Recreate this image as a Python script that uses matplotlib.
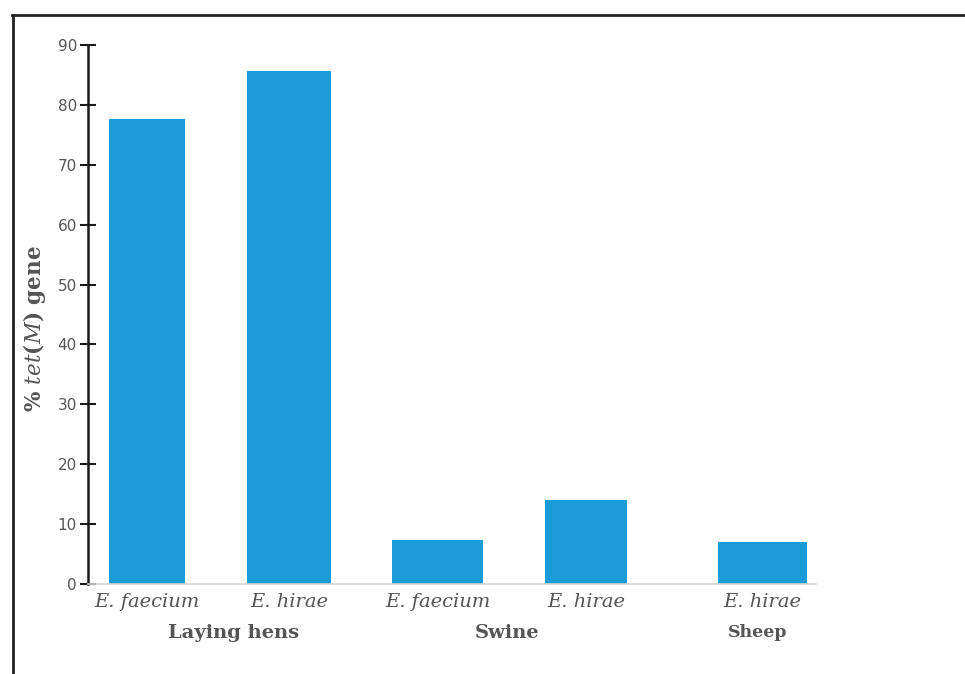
import matplotlib
matplotlib.use("Agg")
import matplotlib.pyplot as plt
from matplotlib.lines import Line2D

# data
species = ["E. faecium", "E. hirae", "E. faecium", "E. hirae", "E. hirae"]
values = [77.7, 85.6, 7.4, 14.1, 7.0]
groups = ["Laying hens", "Swine", "Sheep"]

# layout of the bars (axis units)
xpos = [0.405, 1.38, 2.40, 3.42, 4.63]
widths = [0.52, 0.58, 0.63, 0.56, 0.61]

bar_color = '#1b9bd7'
gray = '#555555'

plt.rcParams['mathtext.fontset'] = 'custom'
plt.rcParams['mathtext.it'] = 'DejaVu Serif:italic'
plt.rcParams['mathtext.rm'] = 'DejaVu Serif:bold'

fig = plt.figure(figsize=(9.65, 6.74), dpi=100)
ax = fig.add_axes([0.0912, 0.1335, 0.7544, 0.7997])

ax.bar(xpos, values, width=widths, color=bar_color)
ax.set_xlim(0, 5)
ax.set_ylim(0, 90)
ax.set_yticks(range(0, 91, 10))

for s in ['top', 'right']:
    ax.spines[s].set_visible(False)
ax.spines['left'].set_linewidth(1.8)
ax.spines['left'].set_color('#1a1a1a')
ax.spines['bottom'].set_color('#d4d4d4')
ax.spines['bottom'].set_linewidth(1.2)
ax.tick_params(axis='y', direction='inout', length=12, width=1.5, color='#1a1a1a',
               labelsize=11, labelcolor=gray, pad=2)
ax.set_xticks([])

# species labels under each bar
for x, name in zip(xpos, species):
    ax.text(x, -1.5, name, ha='center', va='top', fontsize=14, style='italic',
            family='DejaVu Serif', color=gray)

# group labels
group_x = [1.0, 2.88, 4.6]
group_size = [14, 14, 12.5]
for gx, g, fs in zip(group_x, groups, group_size):
    ax.text(gx, -6.6, g, ha='center', va='top', fontsize=fs, fontweight='bold',
            family='DejaVu Serif', color=gray)

fig.text(0.036, 0.512, r'% $\mathit{tet(M)}$ gene', rotation=90, ha='center', va='center',
         fontsize=15.5, fontweight='bold', family='DejaVu Serif', color=gray)

# frame around the figure
fig.add_artist(Line2D([0.0125, 1.0], [0.9777, 0.9777], color='#222222', lw=2))
fig.add_artist(Line2D([0.0135, 0.0135], [0.0, 0.9777], color='#222222', lw=2))

fig.savefig('out.png', dpi=100)
